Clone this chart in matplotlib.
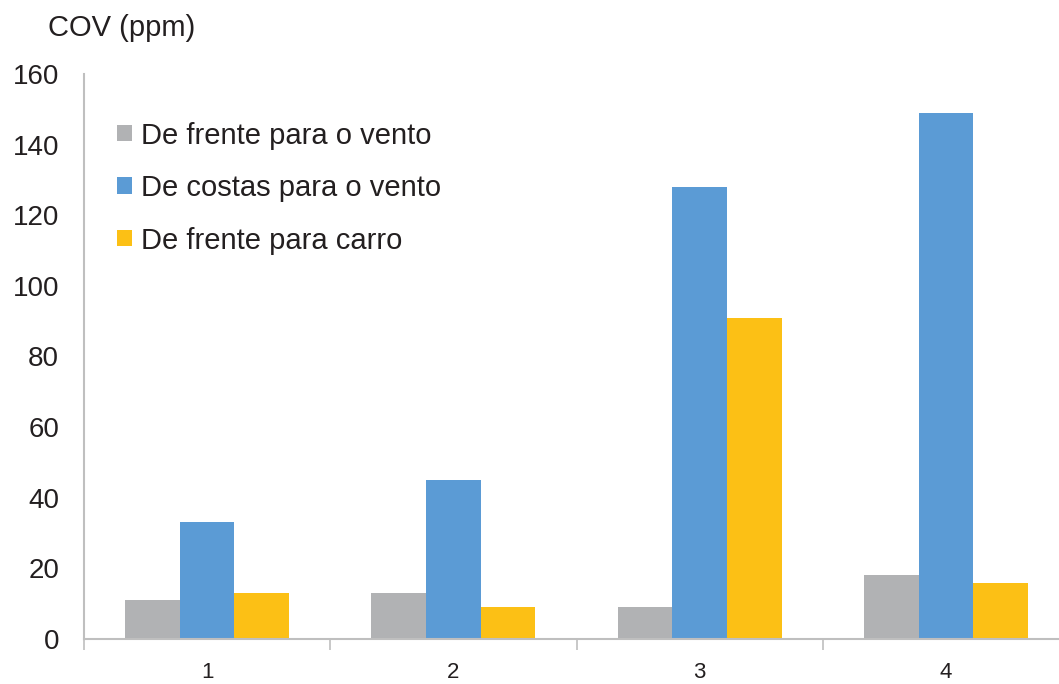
import matplotlib
matplotlib.use("Agg")
import matplotlib.pyplot as plt
import numpy as np

plt.rcParams['font.family'] = ['Liberation Sans', 'DejaVu Sans']

categories = ["1", "2", "3", "4"]
series_names = ["De frente para o vento", "De costas para o vento", "De frente para carro"]
frente_vento = [11, 13, 9, 18]
costas_vento = [33, 45, 128, 149]
frente_carro = [13, 9, 91, 16]
colors = ["#B1B2B4", "#5B9BD5", "#FCC015"]
y_ticks = [0, 20, 40, 60, 80, 100, 120, 140, 160]

W, H = 1059, 684
fig = plt.figure(figsize=(W / 100, H / 100), dpi=100)
ax = fig.add_axes([84 / W, (H - 639) / H, 985 / W, (639 - 74) / H])

x = np.arange(len(categories))
bw = 0.222
for i, (vals, name) in enumerate(zip([frente_vento, costas_vento, frente_carro], series_names)):
    ax.bar(x + (i - 1) * bw, vals, width=bw, color=colors[i], label=name, zorder=2)

ax.set_xlim(-0.5, len(categories) - 0.5)
ax.set_ylim(0, 160)
ax.set_yticks(y_ticks)
ax.set_yticklabels([str(v) for v in y_ticks], fontsize=20, color="#231F20")
ax.tick_params(axis='y', length=0, pad=18)

ax.set_xticks(x)
ax.set_xticklabels(categories, fontsize=16, color="#231F20")
ax.tick_params(axis='x', which='major', length=0, pad=16.5)
ax.set_xticks(np.arange(len(categories)) - 0.5, minor=True)
ax.tick_params(axis='x', which='minor', length=8, width=1.2, color="#BFBFBF")

for s in ["top", "right"]:
    ax.spines[s].set_visible(False)
for s in ["left", "bottom"]:
    ax.spines[s].set_color("#BFBFBF")
    ax.spines[s].set_linewidth(1.5)

leg = ax.legend(loc="upper left", bbox_to_anchor=(0.013, 0.952), frameon=False,
                fontsize=21, handlelength=0.5, handleheight=0.5, handletextpad=0.3,
                labelspacing=0.84, labelcolor="#231F20", borderpad=0.2)

fig.text(48 / W, 1 - 28 / H, "COV (ppm)", fontsize=21, color="#231F20", ha="left", va="center")

fig.savefig("out.png", dpi=100)
